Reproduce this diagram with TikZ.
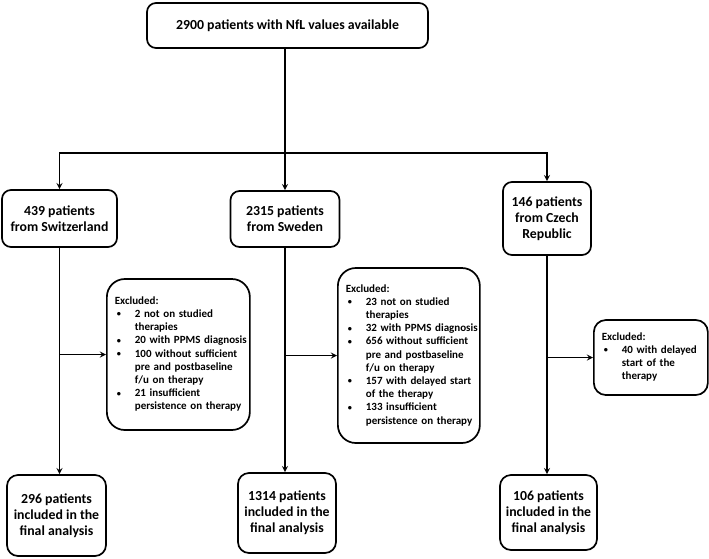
\documentclass[tikz,border=0pt]{standalone}
\usepackage{fontspec}
\setmainfont{Carlito}
\usepackage{tikz}

\newcommand{\bul}{\raisebox{0.6pt}{\scalebox{0.75}{\textbullet}}}

\begin{document}
\begin{tikzpicture}[x=1pt,y=1pt]
    % Define styles
    \tikzstyle{box} = [rectangle, draw, rounded corners=9pt, line width=1.7pt, align=center, inner sep=2pt, font=\bfseries\fontsize{13.8}{16}\selectfont]
    \tikzstyle{excl} = [rectangle, draw, rounded corners=18pt, line width=1.7pt, align=left, anchor=west, inner xsep=8pt, font=\bfseries\fontsize{11}{13.2}\selectfont]
    \tikzstyle{arrow} = [line width=1.7pt,->,>=stealth]
    \useasboundingbox (0,0) rectangle (709,-558);

    % Components
    \node[box, minimum width=281pt, minimum height=45pt] (total) at (287.5,-25.5) {2900 patients with NfL values available};
    \node[box, minimum width=115pt, minimum height=57pt] (swiss) at (59.5,-218.5) {439 patients\\from Switzerland};
    \node[box, minimum width=109pt, minimum height=56pt] (sweden) at (285,-219) {2315 patients\\from Sweden};
    \node[box, minimum width=88pt, minimum height=73pt] (czech) at (547,-218.5) {146 patients\\from Czech\\Republic};

    \node[excl, text width=127pt, minimum height=151pt] (swissexc) at (106,-354.5) {%
        \begin{tabular}{@{\hspace{2pt}}p{18pt}@{}l@{}}
        \multicolumn{2}{@{}l}{Excluded:}\\
        \bul & 2 not on studied\\ & therapies\\
        \bul & 20 with PPMS diagnosis\\
        \bul & 100 without sufficient\\ & pre and postbaseline\\ & f/u on therapy\\
        \bul & 21 insufficient\\ & persistence on therapy
        \end{tabular}};
    \node[excl, text width=126pt, minimum height=175pt] (swedenexc) at (337,-355.5) {%
        \begin{tabular}{@{\hspace{2pt}}p{18pt}@{}l@{}}
        \multicolumn{2}{@{}l}{Excluded:}\\
        \bul & 23 not on studied\\ & therapies\\
        \bul & 32 with PPMS diagnosis\\
        \bul & 656 without sufficient\\ & pre and postbaseline\\ & f/u on therapy\\
        \bul & 157 with delayed start\\ & of the therapy\\
        \bul & 133 insufficient\\ & persistence on therapy
        \end{tabular}};
    \node[excl, rounded corners=12pt, text width=98pt, minimum height=75pt] (czechexc) at (593,-357.5) {%
        \begin{tabular}{@{\hspace{2pt}}p{18pt}@{}l@{}}
        \multicolumn{2}{@{}l}{Excluded:}\\
        \bul & 40 with delayed\\ & start of the\\ & therapy
        \end{tabular}};

    \node[box, rounded corners=11pt, minimum width=99pt, minimum height=81pt] (swissfin) at (56.5,-515.5) {296 patients\\included in the\\final analysis};
    \node[box, rounded corners=11pt, minimum width=98pt, minimum height=80pt] (swedenfin) at (287,-513) {1314 patients\\included in the\\final analysis};
    \node[box, rounded corners=11pt, minimum width=97pt, minimum height=75pt] (czechfin) at (548.5,-512.5) {106 patients\\included in the\\final analysis};

    \coordinate (split) at (285,-153);

    % Connections
    \draw[line width=1.7pt] (total.south -| split) -- (split);
    \draw[arrow] (split) -| (swiss);
    \draw[arrow] (split) -- (sweden);
    \draw[arrow] (split) -| (czech);
    \draw[arrow] (swiss.south) -- (swiss.south |- swissfin.north);
    \draw[arrow] (sweden.south) -- (sweden.south |- swedenfin.north);
    \draw[arrow] (czech.south) -- (czech.south |- czechfin.north);
    \draw[arrow] (swiss.south |- swissexc.west) -- (swissexc.west);
    \draw[arrow] (sweden.south |- swedenexc.west) -- (swedenexc.west);
    \draw[arrow] (czech.south |- czechexc.west) -- (czechexc.west);
\end{tikzpicture}
\end{document}
